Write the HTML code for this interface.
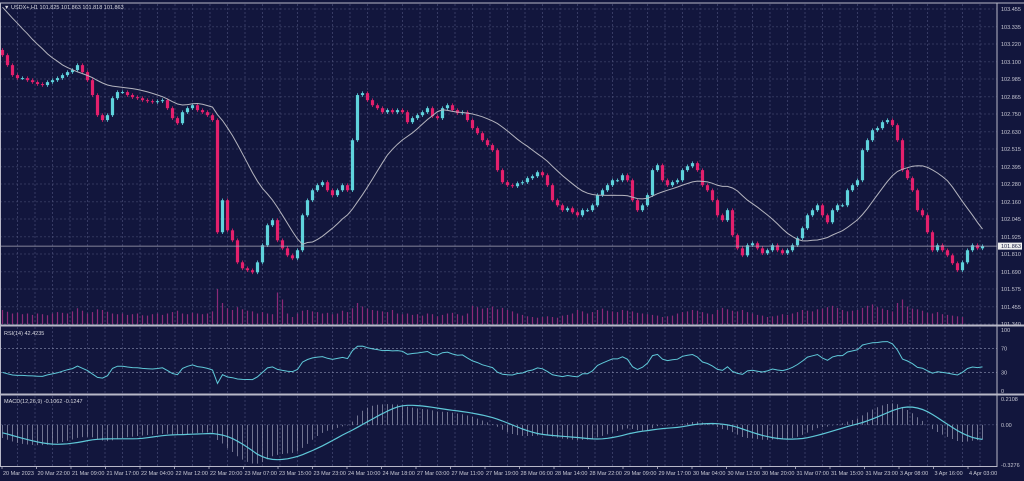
<!DOCTYPE html>
<html><head><meta charset="utf-8">
<style>
html,body{margin:0;padding:0;background:#12163d;}
svg{display:block;font-family:"Liberation Sans",sans-serif;}
</style></head>
<body>
<svg id="chart" width="1024" height="481" viewBox="0 0 1024 481" xmlns="http://www.w3.org/2000/svg">
<rect x="0" y="0" width="1024" height="481" fill="#12163d"/>
<g id="grid"></g>
<g id="volumes"></g>
<g id="candles"></g>
<g id="ma"></g>
<g id="rsi"></g>
<g id="macd"></g>
<g id="axes"></g>
<text x="4" y="9" font-size="5.5" fill="#d8d8e0">▼ USDX+,H1  101.825 101.863 101.818 101.863</text>
<text x="4" y="335" font-size="5.5" fill="#d8d8e0">RSI(14) 42.4235</text>
<text x="4" y="403" font-size="5.5" fill="#d8d8e0">MACD(12,26,9) -0.1062 -0.1247</text>
</svg>
<script>
const preCloses = [103.62,103.70,103.66,103.74,103.68,103.60,103.66,103.58,103.64,103.55,103.50,103.56,103.46,103.40,103.45,103.36,103.30,103.34,103.24,103.20];
const closes = [103.145,103.078,103.011,102.991,102.991,102.977,102.964,102.951,102.944,102.964,102.977,102.991,103.011,103.031,103.045,103.078,103.031,102.977,102.877,102.742,102.709,102.742,102.856,102.897,102.897,102.877,102.863,102.856,102.843,102.836,102.830,102.836,102.843,102.789,102.722,102.688,102.762,102.789,102.809,102.776,102.762,102.742,102.709,101.956,102.171,101.969,101.902,101.754,101.714,101.701,101.687,101.754,101.869,102.003,102.037,101.902,101.848,101.801,101.781,101.835,102.070,102.171,102.238,102.272,102.292,102.238,102.205,102.238,102.272,102.238,102.574,102.877,102.890,102.843,102.809,102.789,102.762,102.776,102.762,102.776,102.762,102.695,102.722,102.742,102.762,102.789,102.735,102.722,102.789,102.809,102.776,102.756,102.762,102.709,102.655,102.621,102.574,102.541,102.507,102.373,102.292,102.272,102.265,102.285,102.292,102.319,102.332,102.359,102.339,102.272,102.171,102.137,102.104,102.117,102.090,102.070,102.104,102.104,102.137,102.205,102.238,102.272,102.305,102.305,102.339,102.305,102.171,102.104,102.137,102.205,102.373,102.406,102.305,102.272,102.292,102.305,102.373,102.399,102.420,102.373,102.272,102.238,102.171,102.070,102.037,102.104,101.936,101.848,101.801,101.869,101.882,101.848,101.815,101.835,101.869,101.835,101.815,101.835,101.869,101.916,101.983,102.070,102.104,102.137,102.070,102.023,102.104,102.137,102.137,102.238,102.272,102.305,102.507,102.574,102.641,102.655,102.695,102.709,102.675,102.574,102.373,102.319,102.238,102.104,102.070,101.956,101.835,101.869,101.835,101.801,101.748,101.701,101.754,101.835,101.869,101.848,101.863];
const volumes = [40,35,30,32,28,30,26,30,28,25,30,34,32,30,36,45,38,30,34,42,40,35,30,28,30,26,28,30,25,24,28,30,26,30,34,38,30,28,32,30,28,30,36,100,60,45,40,48,42,38,36,30,34,30,28,90,70,30,20,30,38,40,36,34,30,32,28,30,38,34,45,60,50,44,40,38,36,34,40,30,28,30,26,28,24,30,28,22,26,30,32,28,24,30,52,48,44,46,50,42,46,40,36,30,26,22,20,18,20,22,20,18,24,26,30,40,36,30,34,40,44,38,36,34,40,38,36,32,30,28,26,24,20,22,24,30,34,36,40,38,34,30,28,40,46,42,38,36,40,34,30,26,24,20,22,24,28,26,30,34,40,38,36,42,44,48,52,46,40,36,38,40,46,52,56,48,44,40,36,60,70,50,44,42,38,32,30,34,28,26,24,22,20];
const priceTicks = ["103.455","103.335","103.220","103.100","102.985","102.865","102.750","102.630","102.515","102.395","102.280","102.160","102.045","101.925","101.810","101.690","101.575","101.455","101.340"];
const timeLabels = ["20 Mar 2023","20 Mar 22:00","21 Mar 09:00","21 Mar 17:00","22 Mar 04:00","22 Mar 12:00","22 Mar 20:00","23 Mar 07:00","23 Mar 15:00","23 Mar 23:00","24 Mar 10:00","24 Mar 18:00","27 Mar 03:00","27 Mar 11:00","27 Mar 19:00","28 Mar 06:00","28 Mar 14:00","28 Mar 22:00","29 Mar 09:00","29 Mar 17:00","30 Mar 04:00","30 Mar 12:00","30 Mar 20:00","31 Mar 07:00","31 Mar 15:00","31 Mar 23:00","3 Apr 08:00","3 Apr 16:00","4 Apr 03:00"];
const rsiTicks = [100,70,30,0];
const macdTicks = [0.2108,0.00,-0.3276];
const currentPrice = 101.863;

const NS="http://www.w3.org/2000/svg";
const PR=997;
const P_TOP=103.455,P_BOT=101.340,Y_TOP=9,Y_BOT=324;
function yP(p){return Y_TOP+(P_TOP-p)*(Y_BOT-Y_TOP)/(P_TOP-P_BOT);}
function xI(i){return 2.5+i*5;}
function yR(v){return 330+(100-v)*0.61;}
const M_TOP=0.2108,M_BOT=-0.3276;
function yM(v){return 399+(M_TOP-v)*(465-399)/(M_TOP-M_BOT);}
function yV(v){return 324-v*0.35;}
function mk(tag,attrs,parent){const e=document.createElementNS(NS,tag);for(const k in attrs)e.setAttribute(k,attrs[k]);parent.appendChild(e);return e;}

const grid=document.getElementById('grid');
for(let x=17.5;x<PR;x+=17.5){
  for(const [a,b] of [[4,325],[327,393],[396,466]]){
    const l=mk('line',{x1:x,x2:x,y1:a,y2:b,stroke:'#50557e','stroke-width':0.6,'stroke-dasharray':'2,2'},grid);
    
    
  }
}
priceTicks.forEach(t=>{
  const y=yP(parseFloat(t));
  const l=mk('line',{x1:0,x2:PR,y1:y,y2:y,stroke:'#50557e','stroke-width':0.6,'stroke-dasharray':'2,2'},grid);
  
  
});
[70,30].forEach(v=>{
  const l=mk('line',{x1:0,x2:PR,y1:yR(v),y2:yR(v),stroke:'#8a8fb0','stroke-width':0.6,'stroke-dasharray':'2,2'},grid);
  
  
});
{
  const l=mk('line',{x1:0,x2:PR,y1:yM(0),y2:yM(0),stroke:'#50557e','stroke-width':0.6,'stroke-dasharray':'2,2'},grid);
  
  
}

const vg=document.getElementById('volumes');
volumes.forEach((v,i)=>{
  const r=mk('line',{x1:xI(i),x2:xI(i),y1:324,y2:yV(v),stroke:'#8a2a78','stroke-width':1.2},vg);
  
  
});

const cg=document.getElementById('candles');
closes.forEach((c,i)=>{
  const o=i===0?103.18:closes[i-1];
  const up=c>=o;
  const col=up?'#5fd3dc':'#e4206c';
  const hi=Math.max(o,c)+0.012,lo=Math.min(o,c)-0.012;
  const x=xI(i);
  const w=mk('line',{x1:x,x2:x,y1:yP(hi),y2:yP(lo),stroke:col,'stroke-width':0.8},cg);
  
  
  const top=yP(Math.max(o,c)),bot=yP(Math.min(o,c));
  const b=mk('rect',{x:x-1.6,y:top,width:3.2,height:Math.max(1,bot-top),fill:col},cg);
  
  
});

const all=preCloses.concat(closes);
const N=18,off=preCloses.length;
let pts=[];
for(let i=0;i<closes.length;i++){
  const j=i+off;let s=0;for(let k=j-N+1;k<=j;k++)s+=all[k];
  pts.push(xI(i).toFixed(1)+','+yP(s/N).toFixed(1));
}
const maL=mk('polyline',{points:pts.join(' '),fill:'none',stroke:'#b4b4be','stroke-width':1},document.getElementById('ma'));



const cp=mk('line',{x1:0,x2:PR,y1:yP(currentPrice),y2:yP(currentPrice),stroke:'#a8a8b8','stroke-width':0.8},document.getElementById('axes'));



let rsiPts=[];
let ag=0,al=0;
for(let j=1;j<all.length;j++){
  const d=all[j]-all[j-1];const g=d>0?d:0,l=d<0?-d:0;
  if(j<=14){ag+=g/14;al+=l/14;}else{ag=(ag*13+g)/14;al=(al*13+l)/14;}
  if(j>=off){const rsi=al===0?100:100-100/(1+ag/al);rsiPts.push(xI(j-off).toFixed(1)+','+yR(rsi).toFixed(1));}
}
const rl=mk('polyline',{points:rsiPts.join(' '),fill:'none',stroke:'#5fc8d8','stroke-width':1},document.getElementById('rsi'));



let e12=all[0],e26=all[0];const macdV=[];
for(let j=0;j<all.length;j++){e12=e12+(all[j]-e12)*2/13;e26=e26+(all[j]-e26)*2/27;macdV.push(e12-e26);}
const mg=document.getElementById('macd');
let sigPts=[];
for(let i=0;i<closes.length;i++){
  const j=i+off;const m=Math.max(M_BOT,Math.min(M_TOP,macdV[j]));
  const h=mk('line',{x1:xI(i),x2:xI(i),y1:yM(0),y2:yM(m),stroke:'#9a9cb4','stroke-width':0.7},mg);
  
  
  let s=0;for(let k=j-8;k<=j;k++)s+=macdV[k];s/=9;
  s=Math.max(M_BOT,Math.min(M_TOP,s));
  sigPts.push(xI(i).toFixed(1)+','+yM(s).toFixed(1));
}
const sl=mk('polyline',{points:sigPts.join(' '),fill:'none',stroke:'#5fc8d8','stroke-width':1.2},mg);



const ax=document.getElementById('axes');
[[0,3,1024,3],[0,325.5,1024,325.5],[0,394.5,1024,394.5],[0,466.5,PR,466.5],[PR,3,PR,467],[0.5,3,0.5,467]].forEach(a=>{
  const l=mk('line',{x1:a[0],y1:a[1],x2:a[2],y2:a[3],stroke:'#b8b8c8','stroke-width':(a[1]===325.5||a[1]===394.5)?2:1},ax);
  
  
});
priceTicks.forEach(t=>{
  const tx=mk('text',{x:1001,y:yP(parseFloat(t))+2,'font-size':5.5,fill:'#c8c8d4'},ax);
  tx.textContent=t;
  
  
});
const box=mk('rect',{x:998,y:yP(currentPrice)-3.5,width:24,height:7,fill:'#f0f0f0'},ax);


const bt=mk('text',{x:1001,y:yP(currentPrice)+2,'font-size':5.5,fill:'#12163d'},ax);
bt.textContent=currentPrice.toFixed(3);


rsiTicks.forEach(v=>{
  const tx=mk('text',{x:1001,y:yR(v)+2,'font-size':5.5,fill:'#c8c8d4'},ax);
  tx.textContent=String(v);
  
  
});
macdTicks.forEach(v=>{
  const tx=mk('text',{x:1001,y:yM(v)+2,'font-size':5.5,fill:'#c8c8d4'},ax);
  tx.textContent=v===0?'0.00':v.toFixed(4);
  
  
});
timeLabels.forEach((t,i)=>{
  const x=2+i*34.5;
  const tk=mk('line',{x1:x,x2:x,y1:466,y2:469,stroke:'#b8b8c8','stroke-width':0.8},ax);
  
  
  const tx=mk('text',{x:x+1,y:475,'font-size':5.5,fill:'#c8c8d4'},ax);
  tx.textContent=t;
  
  
});
</script>
</body></html>
